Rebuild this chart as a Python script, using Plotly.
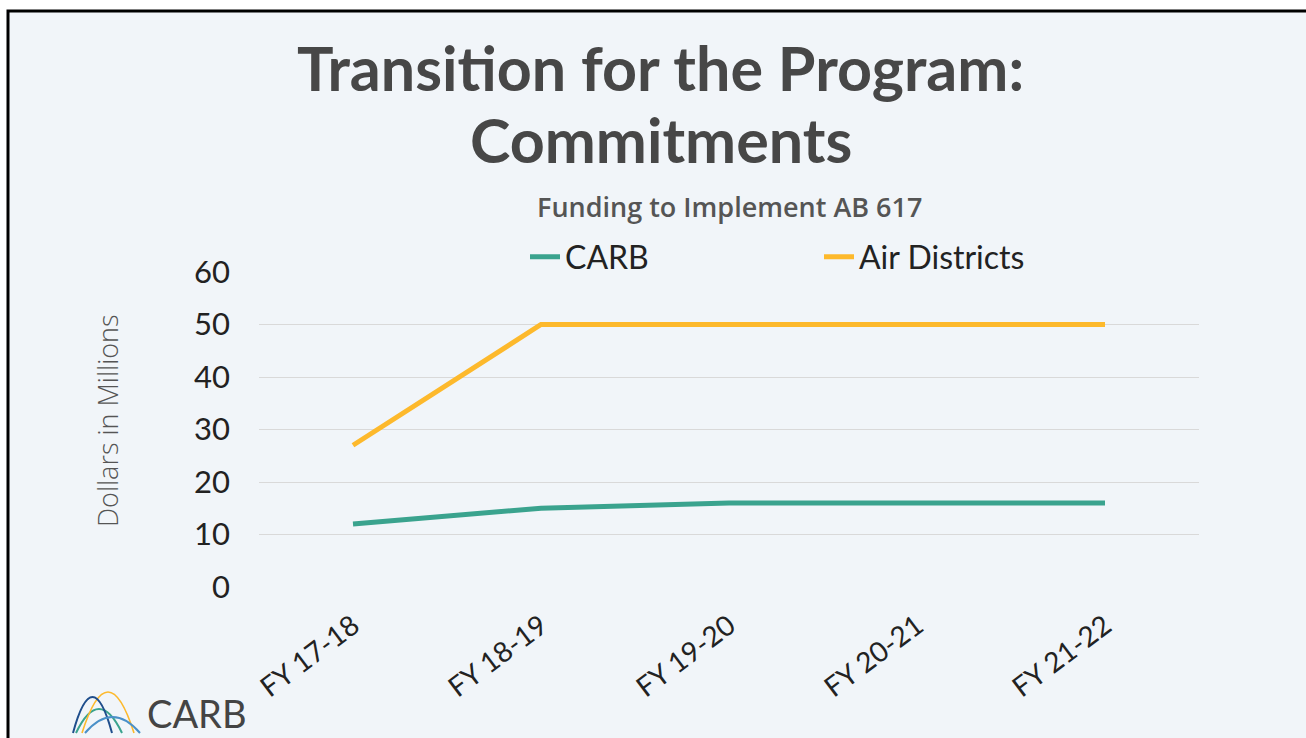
import plotly.graph_objects as go

categories = ["FY 17-18", "FY 18-19", "FY 19-20", "FY 20-21", "FY 21-22"]
carb = [12, 15, 16, 16, 16]
air_districts = [27, 50, 50, 50, 50]
y_ticks = [0, 10, 20, 30, 40, 50, 60]

W, H = 1306, 738
L, R, T, B = 259, 1199, 272, 587


def px(x):
    return (x - L) / (R - L)


def py(y):
    return (B - y) / (B - T)


fig = go.Figure()
fig.add_trace(go.Scatter(x=categories, y=carb, name="CARB", mode="lines",
                         line=dict(color="#3AA38E", width=5)))
fig.add_trace(go.Scatter(x=categories, y=air_districts, name="Air Districts", mode="lines",
                         line=dict(color="#FDB92C", width=5)))

shapes = []
# slide frame
shapes.append(dict(type="rect", xref="paper", yref="paper", layer="below",
                   x0=px(8), x1=px(1330), y0=py(760), y1=py(11),
                   fillcolor="#f1f5f9", line=dict(color="#000000", width=3)))


def arch(x0, x1, peak, color, width=2, base=733):
    cx = (x0 + x1) / 2
    cy = 2 * peak - base
    return dict(type="path", xref="paper", yref="paper",
                path=f"M {px(x0)},{py(base)} Q {px(cx)},{py(cy)} {px(x1)},{py(base)}",
                line=dict(color=color, width=width))


shapes.append(arch(76, 122, 709, "#3AA38E"))
shapes.append(arch(82, 134, 692, "#FDB92C", 1.6))
shapes.append(arch(73, 112, 697, "#1F4E8C"))
shapes.append(arch(85, 140, 717, "#4A90C8"))

annotations = [
    dict(text="Transition for the Program:", xref="paper", yref="paper",
         x=px(660), y=py(67), showarrow=False, xanchor="center", yanchor="middle",
         font=dict(family="Lato", size=61, color="#474747", weight="bold")),
    dict(text="Commitments", xref="paper", yref="paper",
         x=px(661), y=py(140), showarrow=False, xanchor="center", yanchor="middle",
         font=dict(family="Lato", size=61, color="#474747", weight="bold")),
    dict(text="Funding to Implement AB 617", xref="paper", yref="paper",
         x=px(729), y=py(206), showarrow=False, xanchor="center", yanchor="middle",
         font=dict(family="Open Sans", size=27, color="#555555", weight=600)),
    dict(text="Dollars in Millions", xref="paper", yref="paper", textangle=-90,
         x=px(107), y=py(421), showarrow=False, xanchor="center", yanchor="middle",
         font=dict(family="Open Sans", size=27, color="#555555", weight=300)),
    dict(text="CARB", xref="paper", yref="paper",
         x=px(145), y=py(713), showarrow=False, xanchor="left", yanchor="middle",
         font=dict(family="Lato", size=38, color="#444444")),
]

fig.update_layout(
    width=W, height=H,
    margin=dict(l=L, r=W - R, t=T, b=H - B),
    paper_bgcolor="#ffffff",
    plot_bgcolor="rgba(0,0,0,0)",
    shapes=shapes,
    annotations=annotations,
    showlegend=True,
    legend=dict(orientation="h", x=px(525), y=py(257), xanchor="left", yanchor="middle",
                entrywidth=249, entrywidthmode="pixels",
                font=dict(family="Lato", size=32, color="#222222"),
                bgcolor="rgba(0,0,0,0)"),
    xaxis=dict(range=[-0.5, 4.5], showgrid=False, zeroline=False, showline=False,
               tickangle=-37, ticklabelstandoff=16,
               tickfont=dict(family="Lato", size=28, color="#222222")),
    yaxis=dict(range=[0, 60], tickvals=y_ticks, showgrid=True, gridcolor="#d9d9d9",
               gridwidth=1, zeroline=False, showline=False, ticklabelstandoff=28,
               tickfont=dict(family="Lato", size=31, color="#222222")),
)

fig.write_html("out.html")
